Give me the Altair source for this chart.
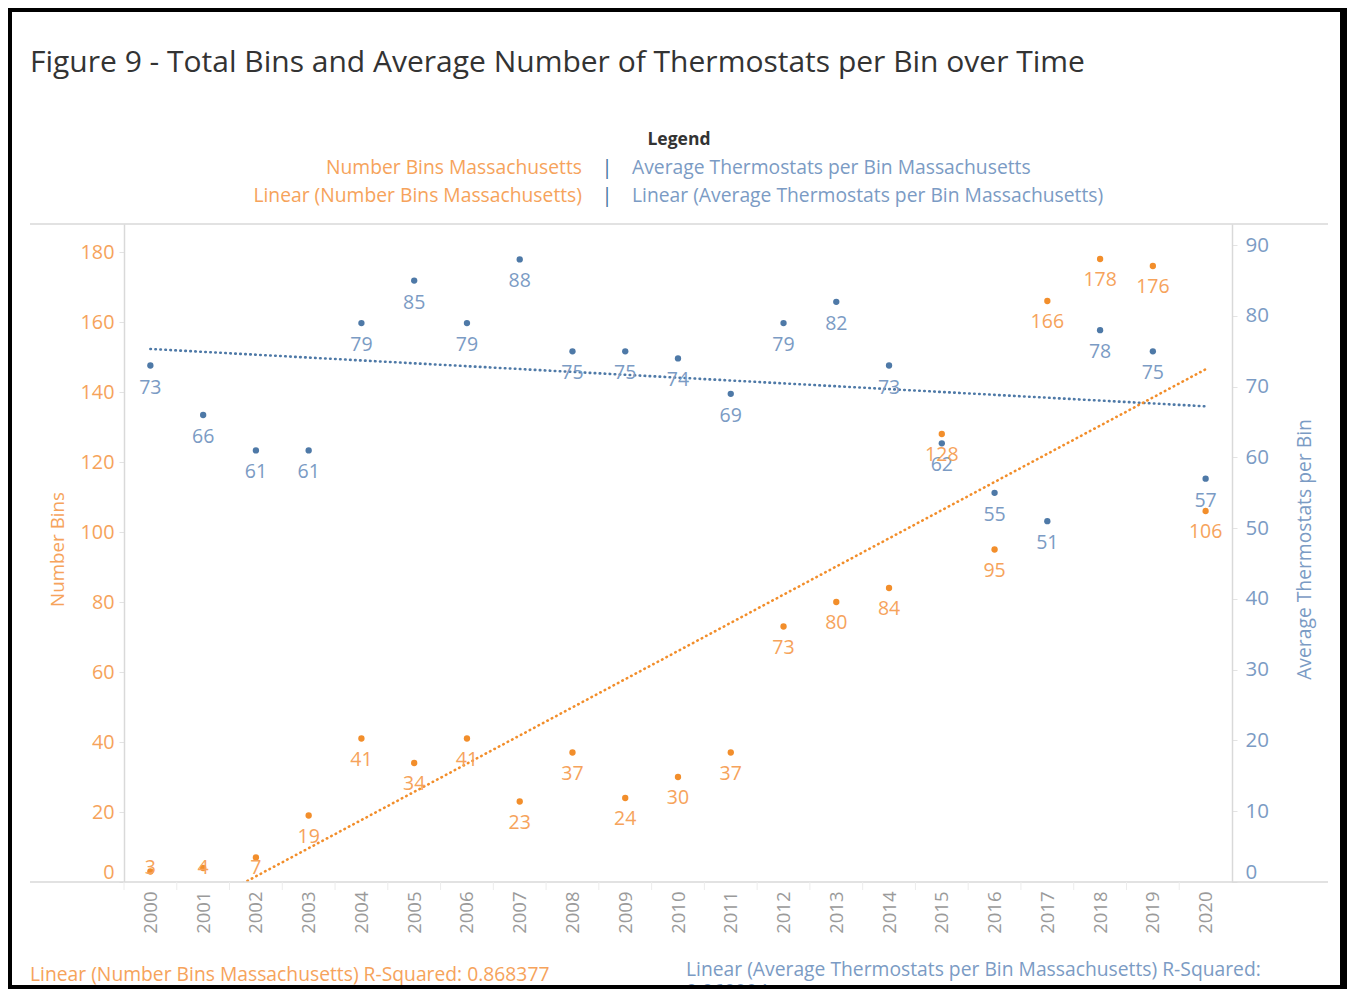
import altair as alt
import pandas as pd

# ---- data ----
years = list(range(2000, 2021))
number_bins = [3, 4, 7, 19, 41, 34, 41, 23, 37, 24, 30, 37, 73, 80, 84, 128, 95, 166, 178, 176, 106]
avg_thermostats = [73, 66, 61, 61, 79, 85, 79, 88, 75, 75, 74, 69, 79, 82, 73, 62, 55, 51, 78, 75, 57]
left_ticks = [0, 20, 40, 60, 80, 100, 120, 140, 160, 180]
right_ticks = [0, 10, 20, 30, 40, 50, 60, 70, 80, 90]

title_text = "Figure 9 - Total Bins and Average Number of Thermostats per Bin over Time"
legend_head = "Legend"
legend_orange = ["Number Bins Massachusetts", "Linear (Number Bins Massachusetts)"]
legend_blue = ["Average Thermostats per Bin Massachusetts", "Linear (Average Thermostats per Bin Massachusetts)"]
foot_orange = "Linear (Number Bins Massachusetts) R-Squared: 0.868377"
foot_blue = ["Linear (Average Thermostats per Bin Massachusetts) R-Squared:", "0.060994"]

df = pd.DataFrame({"Year": years, "Bins": number_bins, "Avg": avg_thermostats})
one = pd.DataFrame({"k": [0]})

W, H = 1108, 658
CW, CH = 1339, 981          # whole canvas
PAD_L, PAD_T = 116, 216
FONT = "Open Sans"
ORANGE = "#f28e2b"
ORANGE_TXT = "#f6a35b"
BLUE = "#4e79a7"
BLUE_TXT = "#7b9bc4"
GRID = "#d9d9d9"
TXT = 19.3

xscale = alt.Scale(domain=[1999.5, 2020.5], nice=False, zero=False)
xenc = alt.X(
    "Year:Q", scale=xscale,
    axis=alt.Axis(values=years, format="d", labelAngle=270, ticks=False, grid=False,
                  domain=False, labelPadding=9, labelColor="#9a9a9a", labelFontSize=18.5,
                  labelFont=FONT, labelFlush=False, title=None),
)

left_axis = alt.Axis(orient="left", values=left_ticks, grid=False, title="Number Bins",
                     titleColor=ORANGE_TXT, titleFont=FONT, titleFontSize=18.8, titleFontWeight="normal",
                     titleX=-67, titleY=H / 2 - 4, titleAngle=270, titleBaseline="middle", titleAlign="center",
                     labelColor=ORANGE_TXT, labelFont=FONT, labelFontSize=19.8, labelFlush=True,
                     labelPadding=5, tickSize=5, tickColor="#e3e3e3", domainColor=GRID, domainWidth=1.5)
right_axis = alt.Axis(orient="right", values=right_ticks, grid=False, title="Average Thermostats per Bin",
                      titleColor=BLUE_TXT, titleFont=FONT, titleFontSize=19.3, titleFontWeight="normal",
                      titleX=72, titleY=H / 2 - 4, titleAngle=270, titleBaseline="middle", titleAlign="center",
                      labelColor=BLUE_TXT, labelFont=FONT, labelFontSize=20.5, labelFlush=True,
                      labelPadding=8, tickSize=5, tickColor="#e3e3e3", domainColor=GRID, domainWidth=1.5)

yl_scale = alt.Scale(domain=[0, 188], nice=False, zero=True)
yr_scale = alt.Scale(domain=[0, 93], nice=False, zero=True)

# ---- blue series (right axis) ----
bbase = alt.Chart(df)
b_trend = bbase.transform_regression("Year", "Avg").mark_line(
    color=BLUE, strokeWidth=2.6, strokeDash=[0.5, 4.5], strokeCap="round"
).encode(x=xenc, y=alt.Y("Avg:Q", scale=yr_scale, axis=right_axis))
b_pts = bbase.mark_circle(size=40, color=BLUE, opacity=1).encode(
    x=xenc, y=alt.Y("Avg:Q", scale=yr_scale, axis=right_axis))
b_lbl = bbase.mark_text(dy=22, color=BLUE_TXT, font=FONT, fontSize=19.5).encode(
    x=xenc, y=alt.Y("Avg:Q", scale=yr_scale, axis=right_axis), text="Avg:Q")
blue = alt.layer(b_trend, b_pts, b_lbl)

# ---- orange series (left axis) ----
obase = alt.Chart(df)
o_trend = obase.transform_regression("Year", "Bins").mark_line(
    color=ORANGE, strokeWidth=2.6, strokeDash=[0.5, 4.5], strokeCap="round", clip=True
).encode(x=xenc, y=alt.Y("Bins:Q", scale=yl_scale, axis=left_axis))
o_pts = obase.mark_circle(size=40, color=ORANGE, opacity=1).encode(
    x=xenc, y=alt.Y("Bins:Q", scale=yl_scale, axis=left_axis))
o_lbl = obase.transform_calculate(ly="max(datum.Bins - 6, 4)").mark_text(
    color=ORANGE_TXT, font=FONT, fontSize=19.5).encode(
    x=xenc, y=alt.Y("ly:Q", scale=yl_scale, axis=left_axis), text="Bins:Q")
orange = alt.layer(o_trend, o_pts, o_lbl)

# ---- decorations (text, header lines, frame) ----
dec = alt.Chart(one)


def txt(s, x, y, color, size, align="left", weight="normal", baseline="middle"):
    return dec.mark_text(text=s, color=color, font=FONT, fontSize=size, align=align,
                         baseline=baseline, fontWeight=weight).encode(x=alt.value(x), y=alt.value(y))


def rule(x, x2, y, y2, color, width):
    return dec.mark_rule(color=color, strokeWidth=width).encode(
        x=alt.value(x), x2=alt.value(x2), y=alt.value(y), y2=alt.value(y2))


bounds = alt.Chart(df).transform_calculate(edge="datum.Year - 0.5").mark_rule(
    color="#ececec", strokeWidth=1).encode(
    x=alt.X("edge:Q", scale=xscale), y=alt.value(H), y2=alt.value(H + 8))

bottom_in = CH - PAD_T      # canvas bottom in plot coordinates
decor = [
    rule(-94, 1204, 0, 0, GRID, 1.5),
    rule(-94, 1204, H, H, GRID, 1.5),
    bounds,
    txt(title_text, -94, -161, "#333333", 30),
    txt(legend_head, 555, -84, "#333333", 17.5, align="center", weight="bold"),
    txt(legend_orange[0], 458, -56, ORANGE_TXT, TXT, align="right"),
    txt("|", 483, -56, "#3d6f9c", TXT, align="center"),
    txt(legend_blue[0], 508, -56, BLUE_TXT, TXT),
    txt(legend_orange[1], 458, -28, ORANGE_TXT, TXT, align="right"),
    txt("|", 483, -28, "#3d6f9c", TXT, align="center"),
    txt(legend_blue[1], 508, -28, BLUE_TXT, TXT),
    txt(foot_orange, -94, 751, ORANGE_TXT, TXT),
    txt(foot_blue[0], 562, 746, BLUE_TXT, TXT),
    txt(foot_blue[1], 562, bottom_in + 3, BLUE_TXT, TXT),
    dec.mark_rect(fill="white", fillOpacity=0, stroke="black", strokeWidth=8).encode(
        x=alt.value(-PAD_L), x2=alt.value(1220), y=alt.value(-PAD_T), y2=alt.value(bottom_in)),
]

chart = alt.layer(blue, orange, *decor).resolve_scale(y="independent").properties(
    width=W, height=H,
    autosize=alt.AutoSizeParams(type="none"),
    padding={"left": PAD_L, "top": PAD_T, "right": CW - PAD_L - W, "bottom": CH - PAD_T - H},
    background="white",
).configure_view(stroke=None)

chart.save("out.html", embed_options={"renderer": "svg", "actions": False})
